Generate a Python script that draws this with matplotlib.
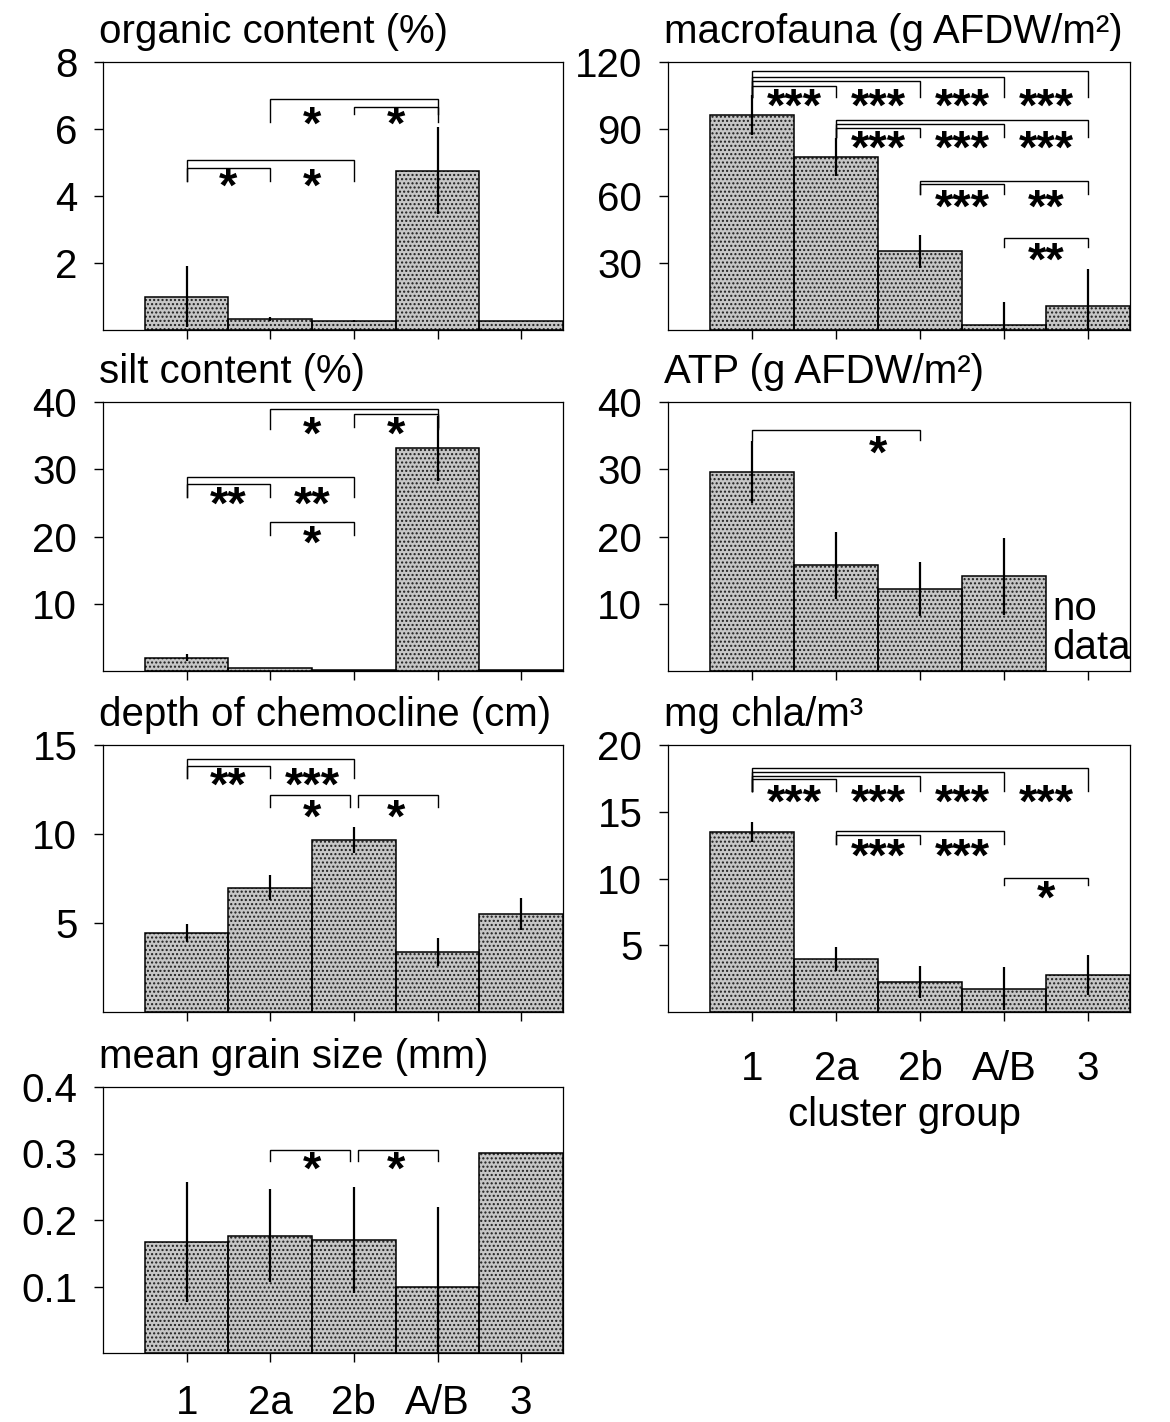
import matplotlib
matplotlib.use('Agg')
import matplotlib.pyplot as plt
import numpy as np

plt.rcParams['font.family'] = ['Liberation Sans', 'DejaVu Sans']
plt.rcParams['hatch.linewidth'] = 1.0

# ---------------- data ----------------
groups = ['1', '2a', '2b', 'A/B', '3']

organic_mean = [1.0, 0.33, 0.27, 4.75, 0.28]
organic_err = [0.9, 0.07, 0.04, 1.3, 0.0]
silt_mean = [2.0, 0.5, 0.1, 33.1, 0.1]
silt_err = [0.5, 0.0, 0.0, 4.8, 0.0]
chemo_mean = [4.44, 6.99, 9.65, 3.37, 5.51]
chemo_err = [0.5, 0.68, 0.72, 0.78, 0.88]
grain_mean = [0.1665, 0.1765, 0.17, 0.10, 0.301]
grain_err = [0.09, 0.07, 0.08, 0.12, 0.0]
macro_mean = [96.3, 77.5, 35.2, 2.2, 10.8]
macro_err = [9.0, 8.5, 7.5, 10.5, 16.5]
atp_mean = [29.6, 15.7, 12.15, 14.1, np.nan]
atp_err = [4.6, 5.0, 4.0, 5.7, np.nan]
chla_mean = [13.48, 3.97, 2.23, 1.76, 2.78]
chla_err = [0.75, 0.87, 1.2, 1.58, 1.5]

# significance brackets: (from group, to group, line level, foot level)
organic_br = [(1, 3, 6.89, 6.2), (2, 3, 6.67, 6.45), (0, 2, 5.07, 4.45), (0, 1, 4.85, 4.45)]
organic_st = [(1, 6.37, '*'), (2, 6.37, '*'), (0, 4.52, '*'), (1, 4.52, '*')]
silt_br = [(1, 3, 39.0, 36.0), (2, 3, 38.2, 36.3), (0, 2, 28.9, 25.8), (0, 1, 27.8, 25.8),
           (1, 2, 22.1, 20.2)]
silt_st = [(1, 36.4, '*'), (2, 36.4, '*'), (0, 26.0, '**'), (1, 26.0, '**'), (1, 20.1, '*')]
chemo_br = [(0, 2, 14.2, 13.16), (0, 1, 13.84, 13.16), (1, 2, 12.18, 11.53), (2, 3, 12.18, 11.53)]
chemo_st = [(0, 13.2, '**'), (1, 13.2, '***'), (1, 11.4, '*'), (2, 11.4, '*')]
grain_br = [(1, 2, 0.306, 0.289), (2, 3, 0.306, 0.289)]
grain_st = [(1, 0.2875, '*'), (2, 0.2875, '*')]
macro_br = [(0, 4, 115.9, 104.2), (0, 3, 113.2, 104.2), (0, 2, 111.4, 104.2), (0, 1, 109.3, 104.2),
            (1, 4, 94.0, 86.2), (1, 3, 92.2, 86.2), (1, 2, 90.3, 86.2),
            (2, 4, 66.7, 61.0), (2, 3, 65.5, 61.0), (3, 4, 41.0, 37.0)]
macro_st = [(0, 103.5, '***'), (1, 103.5, '***'), (2, 103.5, '***'), (3, 103.5, '***'),
            (1, 84.7, '***'), (2, 84.7, '***'), (3, 84.7, '***'),
            (2, 58.5, '***'), (3, 58.5, '**'), (3, 34.5, '**')]
atp_br = [(0, 2, 35.8, 34.3)]
atp_st = [(1, 33.6, '*')]
chla_br = [(0, 4, 18.27, 16.58), (0, 3, 18.0, 16.58), (0, 2, 17.67, 16.58), (0, 1, 17.45, 16.58),
           (1, 3, 13.55, 12.56), (1, 2, 13.28, 12.56), (3, 4, 10.05, 9.5)]
chla_st = [(0, 16.28, '***'), (1, 16.28, '***'), (2, 16.28, '***'), (3, 16.28, '***'),
           (1, 12.24, '***'), (2, 12.24, '***'), (3, 9.13, '*')]

panels = [
    # title, mean, err, ylim, yticks, yticklabels, brackets, stars, column, row
    ('organic content (%)', organic_mean, organic_err, 8, [2, 4, 6, 8], ['2', '4', '6', '8'],
     organic_br, organic_st, 0, 0),
    ('silt content (%)', silt_mean, silt_err, 40, [10, 20, 30, 40], ['10', '20', '30', '40'],
     silt_br, silt_st, 0, 1),
    ('depth of chemocline (cm)', chemo_mean, chemo_err, 15, [5, 10, 15], ['5', '10', '15'],
     chemo_br, chemo_st, 0, 2),
    ('mean grain size (mm)', grain_mean, grain_err, 0.4, [0.1, 0.2, 0.3, 0.4],
     ['0.1', '0.2', '0.3', '0.4'], grain_br, grain_st, 0, 3),
    ('macrofauna (g AFDW/m²)', macro_mean, macro_err, 120, [30, 60, 90, 120],
     ['30', '60', '90', '120'], macro_br, macro_st, 1, 0),
    ('ATP (g AFDW/m²)', atp_mean, atp_err, 40, [10, 20, 30, 40], ['10', '20', '30', '40'],
     atp_br, atp_st, 1, 1),
    ('mg chla/m³', chla_mean, chla_err, 20, [5, 10, 15, 20], ['5', '10', '15', '20'],
     chla_br, chla_st, 1, 2),
]

# ---------------- layout ----------------
W, H = 1170, 1422
fig = plt.figure(figsize=(W / 100, H / 100), dpi=100)
col_x = [(103, 563), (668, 1130)]
row_y = [(62, 330), (402, 671), (745, 1012), (1087, 1353)]
FS = 29
STAR_FS = 34

x = np.arange(len(groups))

for (title, mean, err, ymax, yt, ytl, brs, sts, c, r) in panels:
    x0, x1 = col_x[c]
    yt0, yb0 = row_y[r]
    ax = fig.add_axes([x0 / W, 1 - yb0 / H, (x1 - x0) / W, (yb0 - yt0) / H])
    mean = np.array(mean, dtype=float)
    err = np.array(err, dtype=float)
    ok = ~np.isnan(mean)
    # stippled bars
    ax.bar(x[ok], mean[ok], width=1.0, color='#c6c6c6', edgecolor='#1e1e1e', hatch='....',
           linewidth=0, zorder=2)
    ax.bar(x[ok], mean[ok], width=1.0, color='none', edgecolor='black', linewidth=1.1, zorder=3)
    # error bars
    ax.vlines(x[ok], mean[ok] - err[ok], mean[ok] + err[ok], color='black', linewidth=1.6, zorder=4)
    # brackets
    levels = {}
    for (i, j, yl, yf) in brs:
        levels.setdefault(round(yl, 4), []).append((i, j))
    for (i, j, yl, yf) in brs:
        same = levels[round(yl, 4)]
        li = i + (0.05 if any(b[1] == i for b in same) else 0.0)
        rj = j - (0.05 if any(b[0] == j for b in same) else 0.0)
        ax.plot([li, li, rj, rj], [yf, yl, yl, yf], color='black', linewidth=1.0, zorder=5,
                solid_joinstyle='miter')
    for (k, ys, lab) in sts:
        ax.annotate(lab, xy=(k + 0.5, ys), xytext=(0, -0.47 * STAR_FS), textcoords='offset points',
                    ha='center', va='baseline', fontsize=STAR_FS, fontweight='bold', zorder=6)
    ax.set_xlim(-1, 4.5)
    ax.set_ylim(0, ymax)
    ax.set_yticks(yt)
    ax.set_yticklabels(ytl)
    ax.set_xticks(x)
    ax.tick_params(axis='y', direction='out', length=6.5, width=1.0, pad=12, labelsize=FS)
    ax.tick_params(axis='x', direction='out', length=6.5, width=1.0, labelsize=FS)
    for s in ax.spines.values():
        s.set_linewidth(0.9)
    if (c == 0 and r == 3):
        ax.set_xticklabels(groups)
        ax.tick_params(axis='x', pad=16)
    elif (c == 1 and r == 2):
        ax.set_xticklabels(groups)
        ax.tick_params(axis='x', pad=21)
    else:
        ax.set_xticklabels([])
    ax.text(-4 / (x1 - x0), 1 + 19 / (yb0 - yt0), title, transform=ax.transAxes, ha='left',
            va='baseline', fontsize=FS, clip_on=False)
    if title.startswith('ATP'):
        ax.text(3.58, 6.3, 'no\ndata', ha='left', va='center', fontsize=FS, linespacing=1.02)

fig.text(904 / W, 1 - 1126 / H, 'cluster group', ha='center', va='baseline', fontsize=FS)

fig.savefig('out.png', dpi=100)
